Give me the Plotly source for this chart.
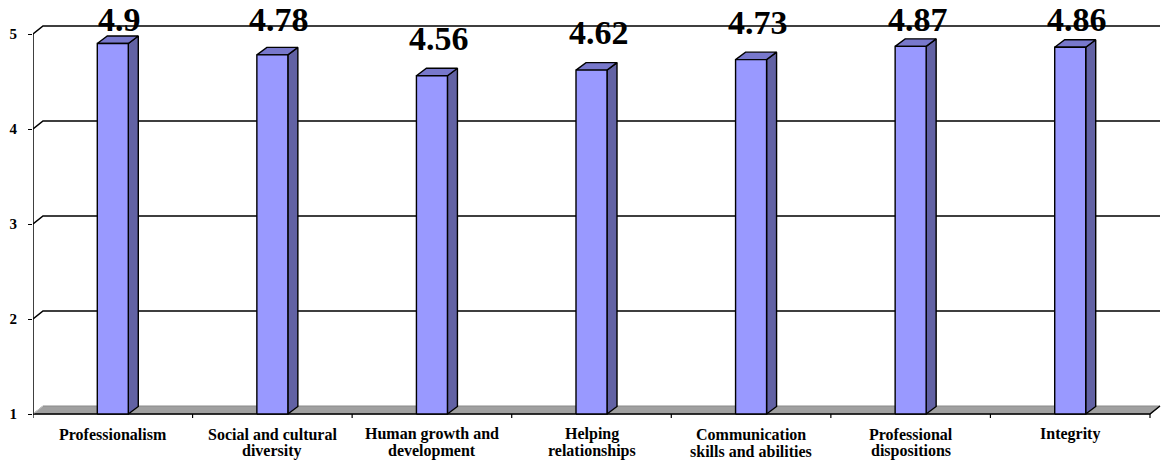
import plotly.graph_objects as go

categories = [
    ["Professionalism"],
    ["Social and cultural", "diversity"],
    ["Human growth and", "development"],
    ["Helping", "relationships"],
    ["Communication", "skills and abilities"],
    ["Professional", "dispositions"],
    ["Integrity"],
]
values = [4.9, 4.78, 4.56, 4.62, 4.73, 4.87, 4.86]
value_labels = ["4.9", "4.78", "4.56", "4.62", "4.73", "4.87", "4.86"]
y_ticks = [1, 2, 3, 4, 5]

W, H = 1164, 462
L, R, T, B = 33, 2, 0, 40
n = len(values)
plot_w = W - L - R
plot_h = H - T - B
px_per_cat = (1150 - 33) / n
x0 = -0.5
x1 = x0 + plot_w / px_per_cat
px_per_val = 95.0
y_base = 1.0
ymin = y_base - (H - B - 414) / px_per_val
ymax = ymin + plot_h / px_per_val

DX = 10 / px_per_cat   # depth offset in category units
DY = 8 / px_per_val    # depth offset in value units
BW = 31 / px_per_cat   # bar width
BDY = 7.5 / px_per_val

SERIF = "Liberation Serif, Times New Roman, serif"
FRONT = "#9999FF"
SIDE = "#6262A4"
TOP = "#7878CC"

fig = go.Figure()

# gridlines (back wall) with diagonal link to front axis
gx, gy = [], []
for v in y_ticks[1:]:
    gx += [x0, x0 + DX, n - 0.5 + DX, None]
    gy += [v, v + DY, v + DY, None]
fig.add_trace(go.Scatter(x=gx, y=gy, mode="lines", line=dict(color="black", width=1.6),
                         hoverinfo="skip", cliponaxis=False))

# floor
fx = [x0, n - 0.5, n - 0.5 + DX, x0 + DX, x0]
fy = [y_base, y_base, y_base + DY, y_base + DY, y_base]
fig.add_trace(go.Scatter(x=fx, y=fy, mode="lines", fill="toself", fillcolor="#A0A0A0",
                         line=dict(color="#8A8A8A", width=1), hoverinfo="skip", cliponaxis=False))
fig.add_trace(go.Scatter(x=[x0, n - 0.5, n - 0.5 + DX], y=[y_base, y_base, y_base + DY],
                         mode="lines", line=dict(color="black", width=1.5),
                         hoverinfo="skip", cliponaxis=False))
fig.add_trace(go.Scatter(x=[x0, x0 + DX], y=[y_base, y_base + DY], mode="lines",
                         line=dict(color="#C8C8C8", width=1), hoverinfo="skip", cliponaxis=False))

# front vertical axis line
fig.add_trace(go.Scatter(x=[x0, x0], y=[y_base, y_ticks[-1]], mode="lines",
                         line=dict(color="black", width=1.5), hoverinfo="skip", cliponaxis=False))

# category tick marks below the floor
tx, ty = [], []
for k in range(n + 1):
    tx += [x0 + k, x0 + k, None]
    ty += [y_base, y_base - 4 / px_per_val, None]
fig.add_trace(go.Scatter(x=tx, y=ty, mode="lines", line=dict(color="black", width=1.2),
                         hoverinfo="skip", cliponaxis=False))

# bars
frx, fry, sdx, sdy, tpx, tpy = [], [], [], [], [], []
for i, v in enumerate(values):
    a, b = i - BW / 2, i + BW / 2
    frx += [a, b, b, a, a, None]
    fry += [y_base, y_base, v, v, y_base, None]
    sdx += [b, b + DX, b + DX, b, b, None]
    sdy += [y_base, y_base + BDY, v + BDY, v, y_base, None]
    tpx += [a, b, b + DX, a + DX, a, None]
    tpy += [v, v, v + BDY, v + BDY, v, None]
for xs, ys, col in [(sdx, sdy, SIDE), (tpx, tpy, TOP), (frx, fry, FRONT)]:
    fig.add_trace(go.Scatter(x=xs, y=ys, mode="lines", fill="toself", fillcolor=col,
                             line=dict(color="black", width=1.4), hoverinfo="skip",
                             cliponaxis=False))

# value labels
label_cap = ymax - 19 / px_per_val
for i, (v, t) in enumerate(zip(values, value_labels)):
    ly = min(v + BDY + 30 / px_per_val, label_cap)
    fig.add_annotation(x=i + 7 / px_per_cat, y=ly, xref="x", yref="y", text=f"<b>{t}</b>",
                       showarrow=False, font=dict(family=SERIF, size=34, color="black"),
                       xanchor="center", yanchor="middle")

# category labels (one annotation per line)
for i, lines in enumerate(categories):
    for j, line in enumerate(lines):
        fig.add_annotation(x=i, y=0, xref="x", yref="paper", yshift=-(12 + 17 * j),
                           text=f"<b>{line}</b>", showarrow=False,
                           font=dict(family=SERIF, size=16, color="black"),
                           xanchor="center", yanchor="middle")

fig.update_layout(
    width=W, height=H,
    margin=dict(l=L, r=R, t=T, b=B, autoexpand=False),
    paper_bgcolor="white", plot_bgcolor="white",
    showlegend=False,
    xaxis=dict(range=[x0, x1], visible=False, fixedrange=True, automargin=False),
    yaxis=dict(range=[ymin, ymax], tickvals=y_ticks,
               ticktext=[f"<b>{t}</b>" for t in y_ticks],
               ticks="outside", ticklen=4, tickcolor="black", tickwidth=1.2,
               showgrid=False, zeroline=False, showline=False, automargin=False,
               tickfont=dict(family=SERIF, size=15, color="black"),
               ticklabelstandoff=8, fixedrange=True),
)

fig.write_html("out.html", config={"displayModeBar": False},
               post_script="document.body.style.margin='0';")
